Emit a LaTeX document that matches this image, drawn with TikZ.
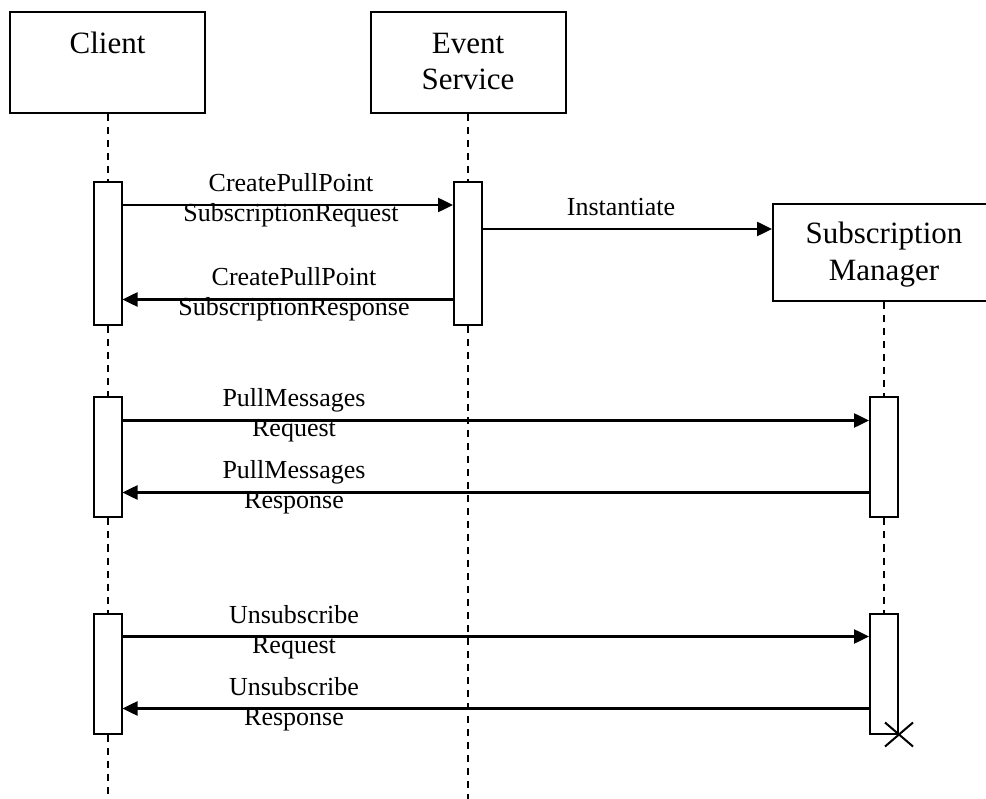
\documentclass[tikz,border=0pt]{standalone}
\usepackage{fontspec}
\setmainfont{Liberation Serif}
\usetikzlibrary{arrows.meta}
\begin{document}
\begin{tikzpicture}[x=1pt,y=-1pt,
  objbox/.style={draw, line width=2pt, fill=white, inner sep=0pt},
  actbox/.style={draw, line width=2pt, fill=white, minimum width=28pt, inner sep=0pt, anchor=north},
  lifeline/.style={line width=2pt, dash pattern=on 7pt off 6pt},
  msgline/.style={line width=2.5pt, -{Triangle[length=15pt,width=14pt]}},
  objtext/.style={font=\fontsize{31}{36}\selectfont, inner sep=0pt, anchor=base},
  msgtext/.style={font=\fontsize{26}{30}\selectfont, inner sep=0pt, anchor=base},
  destroy/.style={line width=2pt},
]
\useasboundingbox (0,0) rectangle (986,799);
\clip (0,0) rectangle (986,799);

% objects
\node[objbox, minimum width=195pt, minimum height=101pt] (client) at (107.5,62.5) {};
\node[objbox, minimum width=195pt, minimum height=101pt] (event) at (468,62.5) {};
\node[objbox, minimum width=222pt, minimum height=97pt] (sm) at (884,252.5) {};

\node[objtext] (clientt) at (107.5,53.3) {Client};
\node[objtext] (eventt1) at (468,53.3) {Event};
\node[objtext] (eventt2) at (468,89.5) {Service};
\node[objtext] (smt1) at (884,243.5) {Subscription};
\node[objtext] (smt2) at (884,281) {Manager};

% activations
\node[actbox, minimum height=143pt] (ca1) at (107.5,181) {};
\node[actbox, minimum height=143pt] (ea1) at (468,181) {};
\node[actbox, minimum height=120pt] (ca2) at (107.5,396.5) {};
\node[actbox, minimum height=120pt] (sa2) at (884,396.5) {};
\node[actbox, minimum height=120pt] (ca3) at (107.5,612.5) {};
\node[actbox, minimum height=120pt] (sa3) at (884,612.5) {};

\coordinate (cend) at (107.5,799);
\coordinate (eend) at (468,799);

% lifelines
\draw[lifeline] (client.south) -- (ca1.north);
\draw[lifeline] (ca1.south) -- (ca2.north);
\draw[lifeline] (ca2.south) -- (ca3.north);
\draw[lifeline] (ca3.south) -- (cend);
\draw[lifeline] (event.south) -- (ea1.north);
\draw[lifeline] (ea1.south) -- (eend);
\draw[lifeline] (sm.south) -- (sa2.north);
\draw[lifeline] (sa2.south) -- (sa3.north);

% messages
\draw[msgline] (ca1.east |- 0,205) -- (ea1.west |- 0,205);
\node[msgtext] (m1a) at (291,191.5) {CreatePullPoint};
\node[msgtext] (m1b) at (291,221.5) {SubscriptionRequest};

\draw[msgline] (ea1.east |- 0,229) -- (sm.west |- 0,229);
\node[msgtext] (m2) at (621,215.5) {Instantiate};

\draw[msgline] (ea1.west |- 0,299.5) -- (ca1.east |- 0,299.5);
\node[msgtext] (m3a) at (294,286) {CreatePullPoint};
\node[msgtext] (m3b) at (294,316) {SubscriptionResponse};

\draw[msgline] (ca2.east |- 0,420.5) -- (sa2.west |- 0,420.5);
\node[msgtext] (m4a) at (294,407) {PullMessages};
\node[msgtext] (m4b) at (294,437) {Request};

\draw[msgline] (sa2.west |- 0,492.5) -- (ca2.east |- 0,492.5);
\node[msgtext] (m5a) at (294,479) {PullMessages};
\node[msgtext] (m5b) at (294,509) {Response};

\draw[msgline] (ca3.east |- 0,636.5) -- (sa3.west |- 0,636.5);
\node[msgtext] (m6a) at (294,623) {Unsubscribe};
\node[msgtext] (m6b) at (294,653) {Request};

\draw[msgline] (sa3.west |- 0,708.5) -- (ca3.east |- 0,708.5);
\node[msgtext] (m7a) at (294,695) {Unsubscribe};
\node[msgtext] (m7b) at (294,725) {Response};

% destruction mark
\draw[destroy] ([shift={(-14,12)}]sa3.south east) -- ([shift={(14,-12)}]sa3.south east);
\draw[destroy] ([shift={(-14,-12)}]sa3.south east) -- ([shift={(14,12)}]sa3.south east);
\end{tikzpicture}
\end{document}
